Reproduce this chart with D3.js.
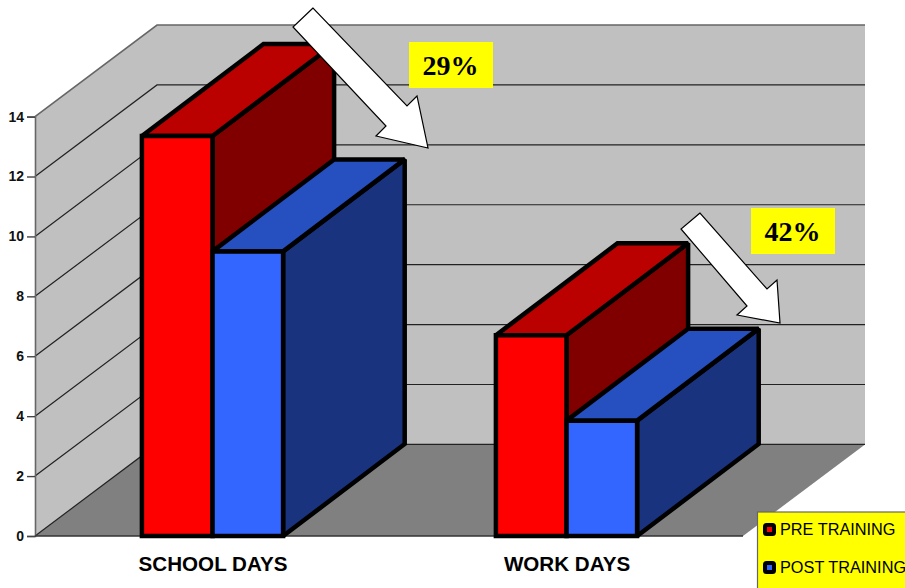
<!DOCTYPE html>
<html><head><meta charset="utf-8">
<script src="https://cdn.jsdelivr.net/npm/d3@7"></script>
<style>html,body{margin:0;padding:0;background:#fff;overflow:hidden}svg{display:block}</style>
</head><body><svg id="c" width="905" height="588"></svg>
<script>
const categories = ["SCHOOL DAYS", "WORK DAYS"];
const seriesNames = ["PRE TRAINING", "POST TRAINING"];
const preTraining = [13.35, 6.7];
const postTraining = [9.5, 3.85];
const yTicks = [0, 2, 4, 6, 8, 10, 12, 14];
const changeLabels = ["29%", "42%"];

const seriesValues = [preTraining, postTraining];
const palette = [
  {front:"#ff0000", top:"#bb0000", side:"#800000"},
  {front:"#3366ff", top:"#264fc0", side:"#19337f"}
];
const svg = d3.select("#c");
const X0 = 35, X1 = 743, Y0 = 536, Y14 = 116.6, DX = 122, DY = 91.6;
const x = d3.scaleBand().domain(categories).range([X0, X1]).paddingInner(0.6).paddingOuter(0.3);
const xInner = d3.scaleBand().domain(seriesNames).range([0.7, x.bandwidth()+0.3]);
const y = d3.scaleLinear().domain([0, 14]).range([Y0, Y14]);
const line = d3.line();
const poly = p => line(p) + "Z";

// walls and floor
svg.append("path").attr("d", poly([[X0,y(14)],[X0+DX,y(14)-DY],[X0+DX,Y0-DY],[X0,Y0]])).attr("fill","#c0c0c0");
svg.append("path").attr("d", poly([[X0+DX,y(14)-DY],[X1+DX,y(14)-DY],[X1+DX,Y0-DY],[X0+DX,Y0-DY]])).attr("fill","#c0c0c0");
svg.append("path").attr("d", poly([[X0,Y0],[X0+DX,Y0-DY],[X1+DX,Y0-DY],[X1,Y0]])).attr("fill","#808080");

// gridlines
yTicks.forEach(t => {
  const yy = y(t);
  svg.append("path").attr("d", line([[X0,yy],[X0+DX,yy-DY],[X1+DX,yy-DY]]))
    .attr("fill","none").attr("stroke", t===14 ? "#666" : "#222").attr("stroke-width", t===14 ? 1.6 : 1.2);
});

// axis
const axisG = svg.append("g").attr("transform",`translate(${X0},0)`)
  .call(d3.axisLeft(y).tickValues(yTicks).tickSize(8).tickPadding(3));
axisG.select(".domain").attr("stroke","#666").attr("stroke-width",1.6);
axisG.selectAll(".tick line").attr("stroke","#444").attr("stroke-width",1.4);
axisG.selectAll("text").attr("font-family","'Liberation Sans',Arial,sans-serif").attr("font-weight","bold").attr("font-size",14).attr("fill","#111");
svg.append("path").attr("d", line([[X0,Y0],[X1,Y0]])).attr("stroke","#333").attr("stroke-width",1.4);

// bars
const BD = 121.6, BH = 92;
categories.forEach((cat, ci) => {
  seriesNames.forEach((s, si) => {
    const l = x(cat) + xInner(s), r = l + xInner.bandwidth(), t = y(seriesValues[si][ci]), b = Y0;
    const g = svg.append("g").attr("stroke","#000").attr("stroke-width",4.5).attr("stroke-linejoin","miter").attr("stroke-miterlimit",2);
    g.append("path").attr("d", poly([[r,t],[r+BD,t-BH],[r+BD,b-BH],[r,b]])).attr("fill",palette[si].side);
    g.append("path").attr("d", poly([[l,t],[l+BD,t-BH],[r+BD,t-BH],[r,t]])).attr("fill",palette[si].top);
    g.append("path").attr("d", poly([[l,t],[r,t],[r,b],[l,b]])).attr("fill",palette[si].front);
  });
  svg.append("text").attr("x", x(cat)+x.bandwidth()/2+1).attr("y", 571).attr("text-anchor","middle")
    .attr("font-family","'Liberation Sans',Arial,sans-serif").attr("font-weight","bold").attr("font-size",20.6).attr("fill","#000").text(cat);
});

// annotation arrows
const arrowShapes = [
  [[313,8],[293,27],[386,126],[376,136],[428,148],[417,96],[407,106]],
  [[700,213],[681,229],[747,306],[737,315],[780,323],[777,280],[767,289]]
];
arrowShapes.forEach(a => svg.append("path").attr("d", poly(a)).attr("fill","#fff").attr("stroke","#000").attr("stroke-width",1.2));

// percent boxes
const boxes = [{x:409,y:42},{x:751,y:208}];
boxes.forEach((b,i) => {
  svg.append("rect").attr("x",b.x).attr("y",b.y).attr("width",84).attr("height",46).attr("fill","#ffff00");
  svg.append("text").attr("x",b.x+41.5).attr("y",b.y+33).attr("text-anchor","middle")
    .attr("font-family","'Liberation Serif','Times New Roman',serif").attr("font-weight","bold").attr("font-size",28).attr("fill","#000").text(changeLabels[i]);
});

// legend
svg.append("rect").attr("x",757.5).attr("y",512).attr("width",160).attr("height",90).attr("fill","#ffff00").attr("stroke","#666").attr("stroke-width",1.2);
seriesNames.forEach((s,i) => {
  const cy = 529.5 + i*38;
  svg.append("rect").attr("x",765).attr("y",cy-4.5).attr("width",9).attr("height",9).attr("rx",1.5).attr("fill",palette[i].front).attr("stroke","#000").attr("stroke-width",4);
  svg.append("text").attr("x",780).attr("y",cy+5.5).attr("font-family","'Liberation Sans',Arial,sans-serif").attr("font-size",16.3).attr("fill","#000").text(s);
});
</script></body></html>
